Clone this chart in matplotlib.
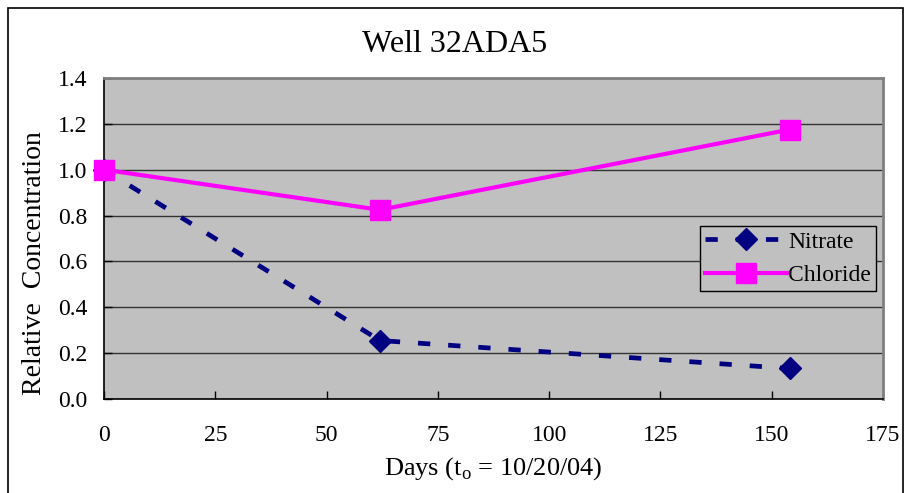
import numpy as np
import matplotlib.pyplot as plt
import matplotlib.patches as patches

plt.rcParams['font.family'] = ['Liberation Serif', 'DejaVu Serif']

# data
days = [0, 62, 154]
nitrate = [1.0, 0.255, 0.133]
chloride = [1.0, 0.825, 1.175]
xticks = [0, 25, 50, 75, 100, 125, 150, 175]
yticks = [0.0, 0.2, 0.4, 0.6, 0.8, 1.0, 1.2, 1.4]

fig = plt.figure(figsize=(9.06, 4.93), dpi=100)
ax = fig.add_axes([0.1148, 0.1907, 0.8598, 0.6511])
ax.set_facecolor('#c0c0c0')

# outer chart frame (bottom edge runs off the picture)
fig.patches.append(patches.Rectangle((8/906, -0.05), 895/906, 1.05 - 8/493,
                                     transform=fig.transFigure, fill=False,
                                     edgecolor='black', linewidth=1.2))

ax.plot(days, nitrate, color='#000080', linewidth=3.4, dashes=(2.6, 3.8),
        marker='D', markersize=11, label='Nitrate', zorder=3, clip_on=False)
ax.plot(days, chloride, color='#ff00ff', linewidth=3,
        marker='s', markersize=15, label='Chloride', zorder=4, clip_on=False)

ax.set_xlim(0, 175)
ax.set_ylim(0, 1.4)
ax.set_xticks(xticks)
ax.set_yticks(yticks)
ax.set_yticklabels(['%.1f' % v for v in yticks])
ax.grid(axis='y', color='#333333', linewidth=1)
ax.set_axisbelow(True)
ax.tick_params(axis='both', direction='in', length=6, width=1, labelsize=17)
ax.tick_params(axis='x', pad=19)
ax.tick_params(axis='y', pad=12)

for s in ['left', 'bottom']:
    ax.spines[s].set_color('black')
    ax.spines[s].set_linewidth(1.2)
for s in ['top', 'right']:
    ax.spines[s].set_color('#808080')
    ax.spines[s].set_linewidth(2)

fig.text(455/906, 1 - 45/493, 'Well 32ADA5', fontsize=23, ha='center', va='center')
ax.set_xlabel('Days (t$_\\mathregular{o}$ = 10/20/04)', fontsize=19, labelpad=6)
ax.set_ylabel('Relative  Concentration', fontsize=20)
ax.yaxis.set_label_coords(-0.073, 0.425)

leg = ax.legend(loc='upper left', bbox_to_anchor=(0.765, 0.538), fontsize=17,
                frameon=True, fancybox=False, facecolor='#c0c0c0',
                edgecolor='black', framealpha=1, handlelength=3.5,
                handletextpad=0.05, borderpad=0.2, labelspacing=0.5,
                borderaxespad=0)
leg.get_frame().set_linewidth(1)

fig.savefig('out.png', dpi=100)
